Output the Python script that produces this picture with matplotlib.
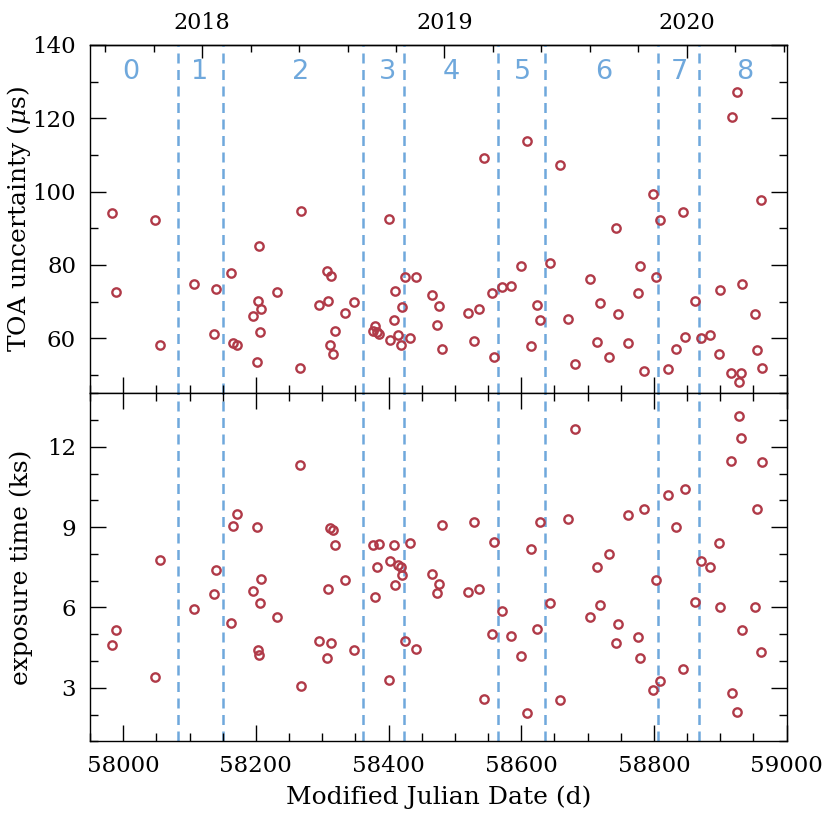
import matplotlib

matplotlib.use("Agg")
import matplotlib.pyplot as plt
from matplotlib.ticker import MultipleLocator, FixedLocator
import matplotlib.transforms as mtransforms

plt.rcParams["font.family"] = "DejaVu Serif"
plt.rcParams["mathtext.fontset"] = "dejavuserif"

# observation epochs (MJD)
mjd = [
    57983, 57989, 58048, 58056, 58107, 58137, 58140, 58162, 58166, 58172,
    58196, 58201, 58202.5, 58204, 58206, 58208.5, 58232, 58266.5, 58268.5, 58294.5,
    58307, 58309, 58311, 58314, 58316.5, 58320, 58335, 58347.5, 58376, 58380,
    58382, 58386, 58401, 58402, 58408, 58409.5, 58414, 58418, 58421, 58425,
    58432.5, 58441, 58465.5, 58472.5, 58475.5, 58481, 58519.5, 58529, 58537, 58543.5,
    58556.5, 58558.5, 58570.5, 58585, 58600, 58608.5, 58614.5, 58624, 58628, 58644,
    58658, 58670.5, 58681, 58703.5, 58714, 58719, 58732.5, 58743, 58746.5, 58761,
    58776.5, 58779, 58785.5, 58798.5, 58803.5, 58808.5, 58821, 58833.5, 58844.5, 58846.5,
    58862, 58871.5, 58885, 58897.5, 58900, 58915.5, 58917, 58924.5, 58928, 58930.5,
    58932, 58953, 58955, 58961.5, 58963.5,
]

# TOA uncertainty (microseconds)
toa_err = [
    94.1, 72.5, 92.2, 58.1, 74.8, 61.3, 73.4, 77.9, 58.6, 58.1,
    66.2, 53.5, 70.2, 85.3, 61.8, 67.9, 72.6, 51.8, 94.7, 69.1,
    78.3, 70.2, 58.1, 77.0, 55.7, 62.0, 67.0, 69.9, 62.0, 63.4,
    61.7, 61.1, 92.6, 59.5, 65.0, 73.0, 60.8, 58.2, 68.5, 76.6,
    60.2, 76.6, 71.9, 63.6, 68.8, 57.1, 66.9, 59.3, 68.1, 109.2,
    72.3, 54.8, 73.9, 74.2, 79.8, 113.7, 58.0, 69.0, 65.0, 80.5,
    107.2, 65.4, 53.0, 76.3, 59.0, 69.7, 54.9, 90.1, 66.7, 58.7,
    72.3, 79.6, 51.1, 99.3, 76.8, 92.3, 51.7, 57.1, 94.5, 60.3,
    70.1, 60.1, 61.0, 55.7, 73.3, 50.6, 120.3, 127.1, 48.2, 50.6,
    74.8, 66.5, 56.7, 97.7, 52.0,
]

# exposure time (ks)
exposure = [
    4.60, 5.16, 3.40, 7.78, 5.96, 6.51, 7.39, 5.42, 9.04, 9.50,
    6.62, 9.00, 4.41, 4.23, 6.17, 7.07, 5.63, 11.31, 3.08, 4.75,
    4.13, 6.69, 8.98, 4.68, 8.91, 8.34, 7.04, 4.41, 8.35, 6.39,
    7.53, 8.38, 3.29, 7.74, 8.34, 6.85, 7.59, 7.50, 7.20, 4.73,
    8.39, 4.46, 7.24, 6.53, 6.89, 9.09, 6.58, 9.18, 6.69, 2.57,
    4.99, 8.43, 5.88, 4.94, 4.19, 2.04, 8.19, 5.21, 9.18, 6.17,
    2.53, 9.29, 12.65, 5.66, 7.52, 6.10, 8.00, 4.67, 5.38, 9.47,
    4.89, 4.13, 9.69, 2.91, 7.03, 3.25, 10.19, 9.02, 3.71, 10.43,
    6.19, 7.73, 7.50, 8.40, 6.01, 11.46, 2.80, 2.08, 13.15, 12.34,
    5.14, 6.00, 9.66, 4.35, 11.45,
]

# segment boundaries and segment labels
boundaries = [58082, 58151, 58362, 58423, 58565, 58636.5, 58806, 58867.5]
segment_names = ["0", "1", "2", "3", "4", "5", "6", "7", "8"]
segment_centers = [58011.5, 58116, 58268, 58398, 58494, 58602, 58724.5, 58839, 58937]

years = [2018, 2019, 2020]

BLUE = "#6fa8dc"
RED = "#b03a48"


def mjd_to_year(m):
    return 2000.0 + (m - 51544.5) / 365.25


def year_to_mjd(y):
    return 51544.5 + (y - 2000.0) * 365.25


def style_axis(ax):
    ax.set_xlim(57950, 59000)
    ax.xaxis.set_major_locator(MultipleLocator(200))
    ax.xaxis.set_minor_locator(MultipleLocator(50))
    ax.tick_params(which="both", direction="in", width=1.0, labelsize=16.5,
                   left=True, right=True, bottom=True, top=True)
    ax.tick_params(which="major", length=11.5, pad=10)
    ax.tick_params(which="minor", length=6)
    for sp in ax.spines.values():
        sp.set_linewidth(1.0)
    for b in boundaries:
        ax.axvline(b, color=BLUE, lw=1.8, dashes=(4, 2.6), zorder=1)


fig = plt.figure(figsize=(8.3, 8.3), dpi=100)
ax1 = fig.add_axes([0.1084, 0.5261, 0.8394, 0.4197])
ax2 = fig.add_axes([0.1084, 0.1069, 0.8394, 0.4192])

for ax in (ax1, ax2):
    style_axis(ax)

ax1.plot(mjd, toa_err, "o", ms=6, mfc="none", mec=RED, mew=1.7, zorder=3)
ax2.plot(mjd, exposure, "o", ms=6, mfc="none", mec=RED, mew=1.7, zorder=3)

ax1.set_ylim(45, 140)
ax1.yaxis.set_major_locator(MultipleLocator(20))
ax1.yaxis.set_minor_locator(MultipleLocator(10))
ax1.tick_params(labelbottom=False, top=False, which="both")

ax2.set_ylim(1, 14)
ax2.yaxis.set_major_locator(MultipleLocator(3))
ax2.yaxis.set_minor_locator(MultipleLocator(1))

# calendar years along the top
secax = ax1.secondary_xaxis("top", functions=(mjd_to_year, year_to_mjd))
secax.xaxis.set_major_locator(FixedLocator(years))
secax.xaxis.set_minor_locator(MultipleLocator(0.2))
secax.xaxis.set_major_formatter(lambda v, pos: f"{v:.0f}")
secax.tick_params(which="both", direction="in", width=1.0, labelsize=16)
secax.tick_params(which="major", length=9.5, pad=8)
secax.tick_params(which="minor", length=5)
secax.spines["top"].set_linewidth(1.0)

trans = mtransforms.blended_transform_factory(ax1.transData, ax1.transAxes)
for name, xc in zip(segment_names, segment_centers):
    ax1.text(xc, 0.923, name, transform=trans, ha="center", va="center",
             color=BLUE, fontsize=19.5, family="DejaVu Sans")

ax1.set_ylabel(r"TOA uncertainty ($\mu$s)", fontsize=18)
ax2.set_ylabel("exposure time (ks)", fontsize=18)
ax1.yaxis.set_label_coords(-0.082, 0.5)
ax2.yaxis.set_label_coords(-0.082, 0.5)
ax2.set_xlabel("Modified Julian Date (d)", fontsize=18, labelpad=6)

fig.savefig("out.png", dpi=100)
